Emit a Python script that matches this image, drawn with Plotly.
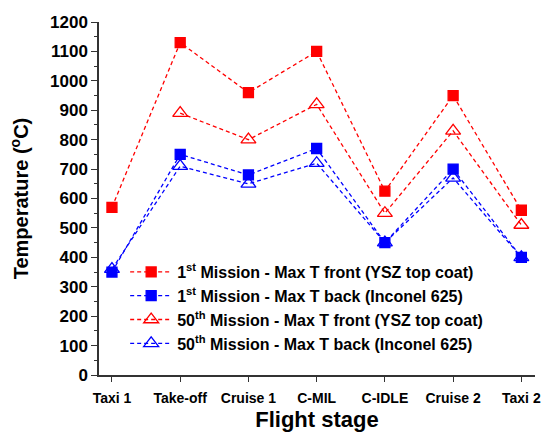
import plotly.graph_objects as go

stages = ["Taxi 1", "Take-off", "Cruise 1", "C-MIL", "C-IDLE", "Cruise 2", "Taxi 2"]
first_front = [570, 1130, 960, 1100, 625, 950, 560]
first_back = [350, 750, 680, 770, 450, 700, 400]
fiftieth_front = [None, 890, 800, 920, 550, 830, 510]
fiftieth_back = [360, 710, 650, 720, 450, 670, 400]

names = [
    "1<sup>st</sup> Mission - Max T front (YSZ top coat)",
    "1<sup>st</sup> Mission - Max T back (Inconel 625)",
    "50<sup>th</sup> Mission - Max T front (YSZ top coat)",
    "50<sup>th</sup> Mission - Max T back (Inconel 625)",
]

RED = "#ff0000"
BLUE = "#0000ff"
x = list(range(len(stages)))

series = [
    (first_front, names[0], RED, "square", 10),
    (first_back, names[1], BLUE, "square", 10),
    (fiftieth_front, names[2], RED, "triangle-up-open", 13),
    (fiftieth_back, names[3], BLUE, "triangle-up-open", 13),
]

fig = go.Figure()
for vals, name, col, sym, sz in series:
    fig.add_trace(go.Scatter(
        x=x, y=vals, name=name, mode="lines+markers",
        line=dict(color=col, width=1.3, dash="4px,3px"),
        marker=dict(symbol=sym, size=sz, color=col, line=dict(color=col, width=1.3)),
        connectgaps=False,
    ))

font = "Arial, Liberation Sans, sans-serif"
fig.update_layout(
    width=541, height=432,
    margin=dict(l=99, r=6, t=22, b=57),
    paper_bgcolor="white", plot_bgcolor="white",
    font=dict(family=font, color="black", size=13),
    showlegend=True,
    legend=dict(
        x=0.06, y=0.34, xanchor="left", yanchor="top",
        bgcolor="rgba(0,0,0,0)", borderwidth=0,
        font=dict(family=font, size=16, color="black", weight="bold"),
        tracegroupgap=0, itemwidth=42,
    ),
    xaxis=dict(
        tickmode="array", tickvals=x, ticktext=stages,
        range=[-0.19, 6.2], automargin=False,
        showgrid=False, zeroline=False,
        showline=True, linecolor="#333333", linewidth=1.5,
        ticks="outside", ticklen=5, tickwidth=1.3, tickcolor="#333333",
        ticklabelstandoff=4,
        tickfont=dict(family=font, size=14, color="black", weight="bold"),
        title=dict(text="Flight stage", font=dict(family=font, size=22, color="black", weight="bold"), standoff=8),
    ),
    yaxis=dict(
        range=[0, 1200], dtick=100, tick0=0, automargin=False,
        showgrid=False, zeroline=False,
        showline=True, linecolor="#333333", linewidth=1.5,
        ticks="outside", ticklen=6, tickwidth=1.3, tickcolor="#333333",
        minor=dict(dtick=50, ticks="outside", ticklen=3, tickcolor="#333333", tickwidth=1),
        tickfont=dict(family=font, size=17, color="black", weight="bold"),
        title=dict(text="Temperature (<sup>o</sup>C)", font=dict(family=font, size=20, color="black", weight="bold"), standoff=16),
    ),
)

fig.write_html("out.html")
